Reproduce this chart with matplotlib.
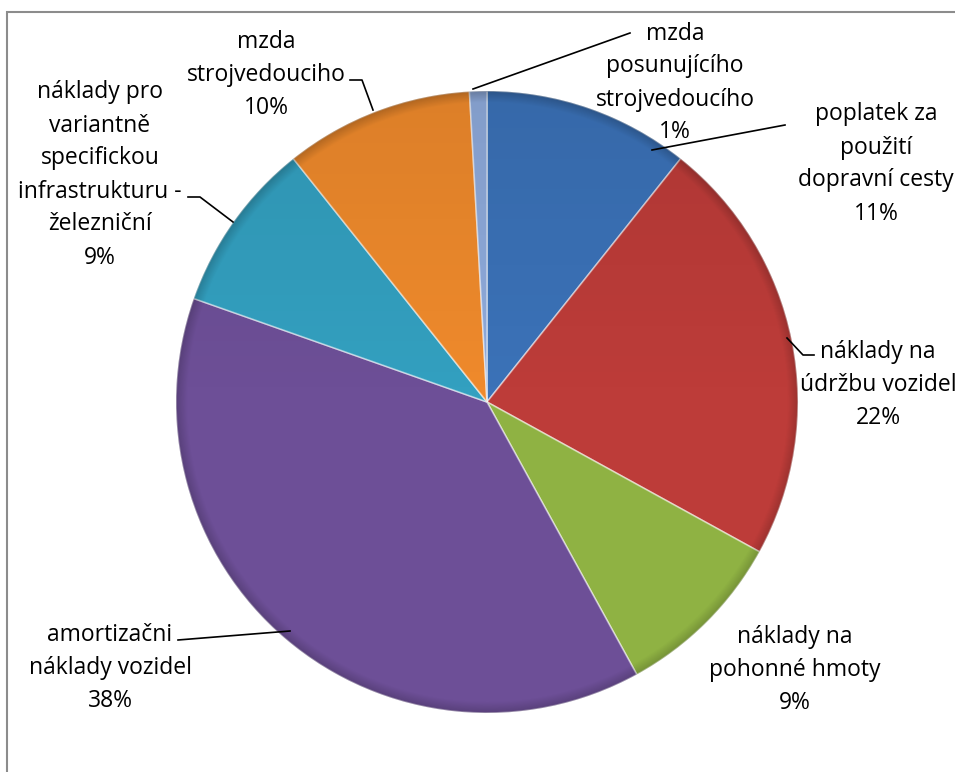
import numpy as np
import matplotlib.pyplot as plt
from matplotlib.patches import Rectangle, Circle

plt.rcParams['font.family'] = ['Open Sans', 'DejaVu Sans']

# podíl nákladů (%), ve směru hodinových ručiček od 12 hodin
labels = [
    "poplatek za\npoužití\ndopravní cesty",
    "náklady na\núdržbu vozidel",
    "náklady na\npohonné hmoty",
    "amortizačni\nnáklady vozidel",
    "náklady pro\nvariantně\nspecifickou\ninfrastrukturu -\nželezniční",
    "mzda\nstrojvedouciho",
    "mzda\nposunujícího\nstrojvedoucího",
]
values = [10.7, 22.3, 9.0, 38.4, 8.9, 9.8, 0.9]
colors = ["#3b72b8", "#bd3c39", "#8fb243", "#6d4f97", "#33a0c0", "#ef8a2c", "#8eaadb"]

W, H = 955, 772
fig = plt.figure(figsize=(W / 100, H / 100), dpi=100)
ax = fig.add_axes([0, 0, 1, 1])

def py(y):
    # pixel y from top -> data y
    return H - y

cx, cy, r = 487, py(402), 311

# frame of the chart area (cut off right and bottom)
ax.add_patch(Rectangle((7, -20), W + 40, py(12) + 20, fill=False,
                       edgecolor="#8c8c8c", linewidth=1.5))

wedges, _ = ax.pie(values, colors=colors, startangle=90, counterclock=False,
                   center=(cx, cy), radius=r, frame=True,
                   wedgeprops=dict(edgecolor=(1, 1, 1, 0.5), linewidth=1.2))
ax.set_xlim(0, W)
ax.set_ylim(0, H)
ax.set_aspect('equal')
ax.axis('off')

# soft bevel shading over the pie
n = 500
gx, gy = np.meshgrid(np.linspace(-1, 1, n), np.linspace(-1, 1, n))
rr = np.sqrt(gx ** 2 + gy ** 2)
shade = np.zeros((n, n, 4))
alpha = np.clip((rr - 0.965) / 0.035, 0, 1) * 0.18 + np.clip(-gy, 0, 1) * 0.08
shade[..., 3] = alpha
img = ax.imshow(shade, extent=(cx - r, cx + r, cy - r, cy + r), origin='upper',
                zorder=3, interpolation='bilinear')
img.set_clip_path(Circle((cx, cy), r, transform=ax.transData))
ax.set_xlim(0, W)
ax.set_ylim(0, H)

# label layout: text centre (px), leader points (px)
text_pos = [(876, 164), (878, 385), (795, 670), (110, 668), (100, 175), (266, 75), (675, 83)]
leaders = [
    [(652, 150), (785, 125)],
    [(787, 338), (803, 355), (814, 355)],
    None,
    [(290, 631), (178, 640)],
    [(233, 222), (200, 197), (188, 197)],
    [(373, 110), (362, 80), (350, 80)],
    [(473, 89), (630, 33)],
]

total = sum(values)
for lab, v, (tx, ty), ld in zip(labels, values, text_pos, leaders):
    ax.text(tx, py(ty), f"{lab}\n{round(v / total * 100):.0f}%", ha='center', va='center',
            fontsize=16.5, linespacing=1.5, color="black", zorder=5)
    if ld:
        xs = [p[0] for p in ld]
        ys = [py(p[1]) for p in ld]
        ax.plot(xs, ys, color="black", linewidth=1.2, zorder=4)

fig.savefig("out.png", dpi=100)
